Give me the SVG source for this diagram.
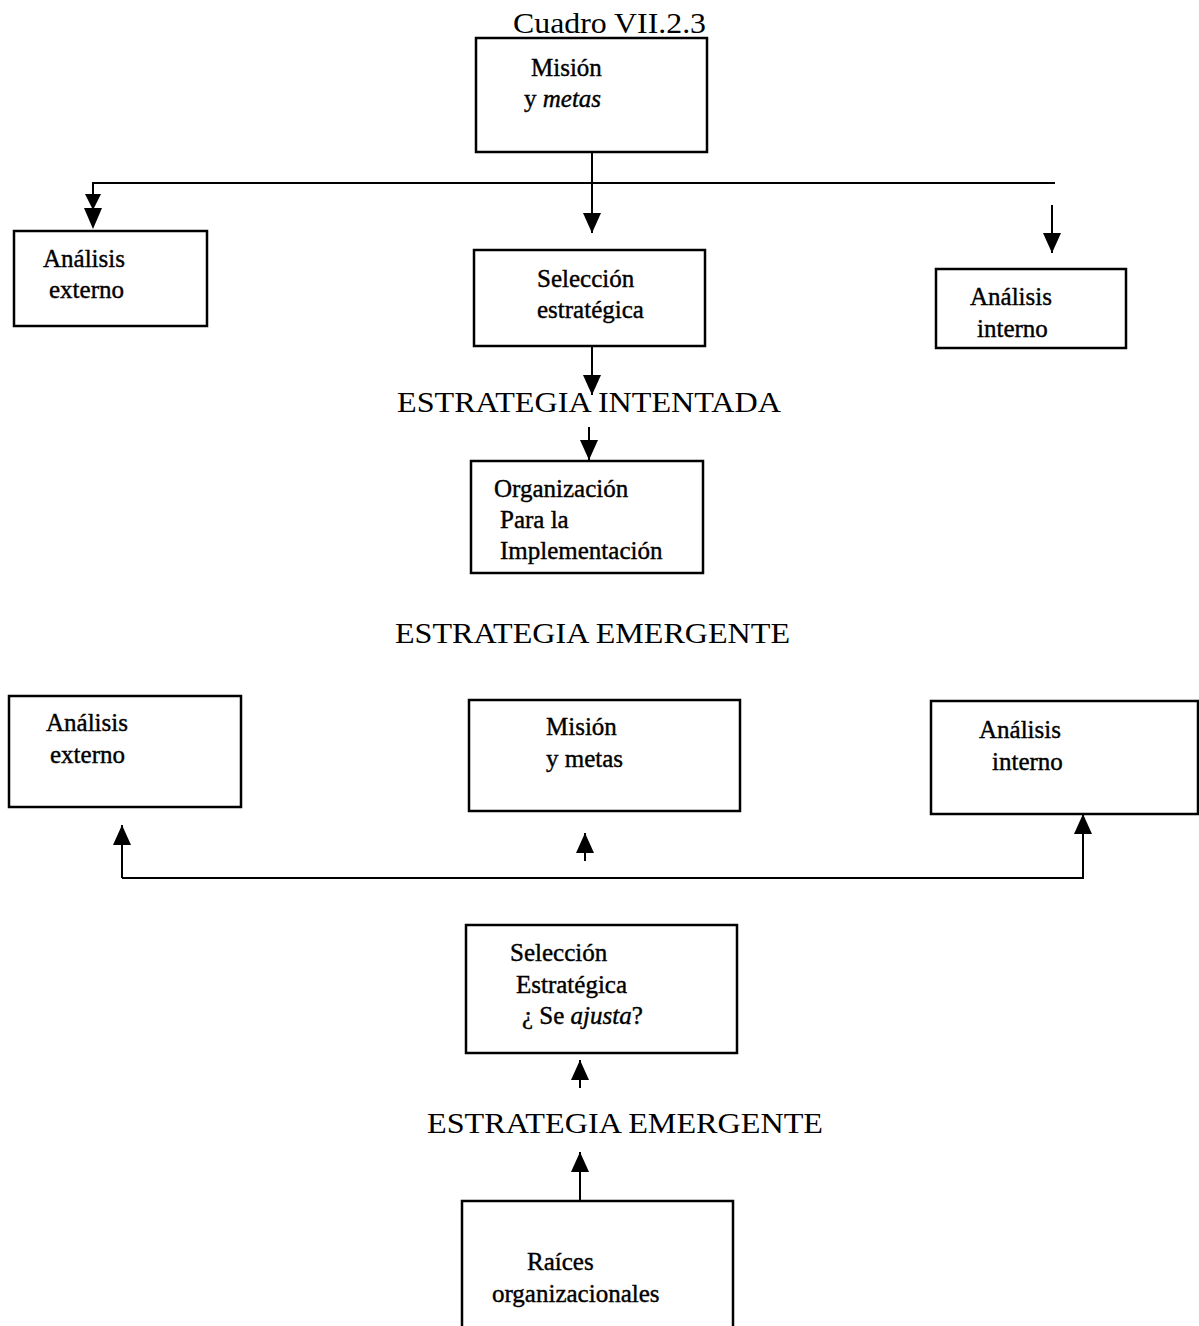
<svg xmlns="http://www.w3.org/2000/svg" width="1199" height="1326" viewBox="0 0 1199 1326">
<style>
.box{fill:#fff;stroke:#000;stroke-width:2.5}
.t{font-family:"Liberation Serif","Times New Roman",serif;font-size:25px;fill:#000;stroke:#000;stroke-width:0.4}
.big{font-family:"Liberation Serif","Times New Roman",serif;font-size:30px;fill:#000}
.c{fill:none;stroke:#000;stroke-width:2}
.ah{fill:#000;stroke:none}
</style>
<defs>
<marker id="arr" markerUnits="userSpaceOnUse" markerWidth="20" markerHeight="18" refX="20" refY="9" orient="auto">
<path d="M0,0 L20,9 L0,18 z" fill="#000"/>
</marker>
</defs>
<rect width="1199" height="1326" fill="#fff"/>
<text class="big" x="513" y="33" textLength="193" lengthAdjust="spacingAndGlyphs">Cuadro VII.2.3</text>
<g id="connectors">
<path class="c" d="M592,152 V233" marker-end="url(#arr)"/>
<path class="c" d="M92,183 H1055"/>
<path class="c" d="M93,183 V225"/>
<polygon class="ah" points="85,194 101,194 93,210"/>
<polygon class="ah" points="84,208 102,208 93,229"/>
<path class="c" d="M1052,205 V253" marker-end="url(#arr)"/>
<path class="c" d="M592,346 V395" marker-end="url(#arr)"/>
<path class="c" d="M589,427 V460" marker-end="url(#arr)"/>
<path class="c" d="M122,878 V825" marker-end="url(#arr)"/>
<path class="c" d="M122,878 H1083 V814" marker-end="url(#arr)"/>
<path class="c" d="M585,861 V833" marker-end="url(#arr)"/>
<path class="c" d="M580,1088 V1060" marker-end="url(#arr)"/>
<path class="c" d="M580,1201 V1152" marker-end="url(#arr)"/>
</g>
<g id="mision-top">
<rect class="box" x="476" y="38" width="231" height="114"/>
<text class="t" x="531" y="76">Misión</text>
<text class="t" x="524" y="107">y <tspan font-style="italic">metas</tspan></text>
</g>
<g id="analisis-externo-top">
<rect class="box" x="14" y="231" width="193" height="95"/>
<text class="t" x="43" y="267">Análisis</text>
<text class="t" x="49" y="298">externo</text>
</g>
<g id="seleccion-top">
<rect class="box" x="474" y="250" width="231" height="96"/>
<text class="t" x="537" y="287">Selección</text>
<text class="t" x="537" y="318">estratégica</text>
</g>
<g id="analisis-interno-top">
<rect class="box" x="936" y="269" width="190" height="79"/>
<text class="t" x="970" y="305">Análisis</text>
<text class="t" x="977" y="337">interno</text>
</g>
<g id="label-intentada">
<text class="big" x="397" y="412" textLength="384" lengthAdjust="spacingAndGlyphs">ESTRATEGIA INTENTADA</text>
</g>
<g id="organizacion">
<rect class="box" x="471" y="461" width="232" height="112"/>
<text class="t" x="494" y="497">Organización</text>
<text class="t" x="500" y="528">Para la</text>
<text class="t" x="500" y="559">Implementación</text>
</g>
<g id="label-emergente-1">
<text class="big" x="395" y="643" textLength="395" lengthAdjust="spacingAndGlyphs">ESTRATEGIA EMERGENTE</text>
</g>
<g id="analisis-externo-bottom">
<rect class="box" x="9" y="696" width="232" height="111"/>
<text class="t" x="46" y="731">Análisis</text>
<text class="t" x="50" y="763">externo</text>
</g>
<g id="mision-bottom">
<rect class="box" x="469" y="700" width="271" height="111"/>
<text class="t" x="546" y="735">Misión</text>
<text class="t" x="546" y="767">y metas</text>
</g>
<g id="analisis-interno-bottom">
<rect class="box" x="931" y="701" width="267" height="113"/>
<text class="t" x="979" y="738">Análisis</text>
<text class="t" x="992" y="770">interno</text>
</g>
<g id="seleccion-bottom">
<rect class="box" x="466" y="925" width="271" height="128"/>
<text class="t" x="510" y="961">Selección</text>
<text class="t" x="516" y="993">Estratégica</text>
<text class="t" x="522" y="1024">¿ Se <tspan font-style="italic">ajusta</tspan>?</text>
</g>
<g id="label-emergente-2">
<text class="big" x="427" y="1133" textLength="396" lengthAdjust="spacingAndGlyphs">ESTRATEGIA EMERGENTE</text>
</g>
<g id="raices">
<rect class="box" x="462" y="1201" width="271" height="140"/>
<text class="t" x="527" y="1270">Raíces</text>
<text class="t" x="492" y="1302">organizacionales</text>
</g>
</svg>
